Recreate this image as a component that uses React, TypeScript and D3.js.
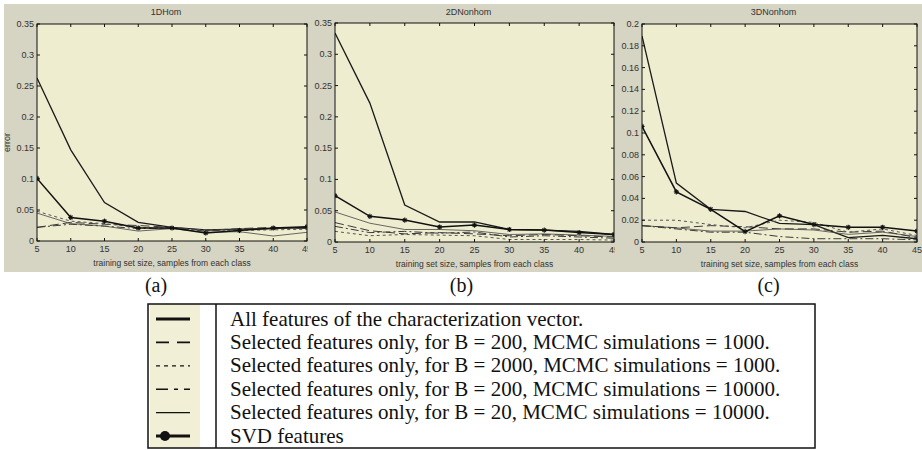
import React from "react";
import * as d3 from "d3";

// x values shared by every panel: training set size, samples from each class
const trainingSizes = [5, 10, 15, 20, 25, 30, 35, 40, 45];

// panel (a) 1DHom
const homAll = [0.263, 0.147, 0.062, 0.03, 0.022, 0.018, 0.019, 0.02, 0.022];
const homB200M1000 = [0.022, 0.03, 0.027, 0.025, 0.022, 0.017, 0.02, 0.022, 0.02];
const homB2000M1000 = [0.048, 0.032, 0.028, 0.022, 0.02, 0.018, 0.017, 0.018, 0.019];
const homB200M10000 = [0.022, 0.027, 0.024, 0.02, 0.021, 0.016, 0.019, 0.02, 0.021];
const homB20M10000 = [0.045, 0.028, 0.024, 0.016, 0.02, 0.014, 0.015, 0.008, 0.014];
const homSvd = [0.101, 0.038, 0.032, 0.021, 0.021, 0.013, 0.017, 0.021, 0.023];

// panel (b) 2DNonhom
const non2All = [0.334, 0.222, 0.059, 0.032, 0.032, 0.02, 0.019, 0.017, 0.012];
const non2B200M1000 = [0.031, 0.018, 0.013, 0.015, 0.013, 0.01, 0.012, 0.01, 0.008];
const non2B2000M1000 = [0.017, 0.01, 0.012, 0.011, 0.01, 0.004, 0.004, 0.004, 0.003];
const non2B200M10000 = [0.025, 0.015, 0.017, 0.014, 0.016, 0.008, 0.01, 0.008, 0.006];
const non2B20M10000 = [0.048, 0.03, 0.02, 0.02, 0.018, 0.012, 0.013, 0.011, 0.009];
const non2Svd = [0.074, 0.041, 0.035, 0.024, 0.027, 0.02, 0.019, 0.015, 0.012];

// panel (c) 3DNonhom
const non3All = [0.189, 0.054, 0.03, 0.028, 0.017, 0.016, 0.004, 0.006, 0.003];
const non3B200M1000 = [0.015, 0.013, 0.015, 0.014, 0.012, 0.012, 0.009, 0.01, 0.004];
const non3B2000M1000 = [0.02, 0.02, 0.016, 0.013, 0.02, 0.018, 0.009, 0.012, 0.006];
const non3B200M10000 = [0.015, 0.012, 0.009, 0.009, 0.005, 0.003, 0.003, 0.003, 0.002];
const non3B20M10000 = [0.015, 0.013, 0.01, 0.01, 0.012, 0.011, 0.007, 0.009, 0.005];
const non3Svd = [0.106, 0.046, 0.03, 0.0095, 0.024, 0.016, 0.0135, 0.0135, 0.01];

const legendLabels = [
  "All features of the characterization vector.",
  "Selected features only, for B = 200, MCMC simulations = 1000.",
  "Selected features only, for B = 2000, MCMC simulations = 1000.",
  "Selected features only, for B = 200, MCMC simulations = 10000.",
  "Selected features only, for B = 20, MCMC simulations = 10000.",
  "SVD features",
];

// line styles, in legend order
const styles = [
  { dash: "", width: 1.3, color: "#1a1a1a", legendWidth: 3, legendDash: "" },
  { dash: "9,4", width: 1, color: "#3a3a3a", legendWidth: 1.6, legendDash: "13,8" },
  { dash: "3,3", width: 1, color: "#555", legendWidth: 1.3, legendDash: "4,4" },
  { dash: "8,3,2,3", width: 1, color: "#3a3a3a", legendWidth: 1.6, legendDash: "12,6,4,6" },
  { dash: "", width: 0.8, color: "#444", legendWidth: 1.4, legendDash: "" },
  { dash: "", width: 1.5, color: "#111", legendWidth: 3, legendDash: "" },
];

const panels = [
  {
    title: "1DHom", tag: "(a)", yMax: 0.35, yStep: 0.05, yLabel: "error",
    bg: [4, 308], left: 37, right: 307, top: 24, bottom: 241,
    series: [homAll, homB200M1000, homB2000M1000, homB200M10000, homB20M10000, homSvd],
  },
  {
    title: "2DNonhom", tag: "(b)", yMax: 0.35, yStep: 0.05, yLabel: "",
    bg: [308, 615], left: 335, right: 614, top: 23, bottom: 242,
    series: [non2All, non2B200M1000, non2B2000M1000, non2B200M10000, non2B20M10000, non2Svd],
  },
  {
    title: "3DNonhom", tag: "(c)", yMax: 0.2, yStep: 0.02, yLabel: "",
    bg: [615, 922], left: 642, right: 917, top: 24, bottom: 242,
    series: [non3All, non3B200M1000, non3B2000M1000, non3B200M10000, non3B20M10000, non3Svd],
  },
];

const fmt = (d: number) => (d === 0 ? "0" : String(+d.toFixed(2)));
const tickFont = "Liberation Sans, Arial, sans-serif";
const serif = "Liberation Serif, Times New Roman, serif";

function Star({ cx, cy }: { cx: number; cy: number }) {
  const r = 2.6;
  return (
    <g stroke="#111" strokeWidth={1.1}>
      <line x1={cx - r} y1={cy} x2={cx + r} y2={cy} />
      <line x1={cx} y1={cy - r} x2={cx} y2={cy + r} />
      <line x1={cx - r * 0.7} y1={cy - r * 0.7} x2={cx + r * 0.7} y2={cy + r * 0.7} />
      <line x1={cx - r * 0.7} y1={cy + r * 0.7} x2={cx + r * 0.7} y2={cy - r * 0.7} />
    </g>
  );
}

function Panel({ p, idx }: { p: (typeof panels)[number]; idx: number }) {
  const x = d3.scaleLinear().domain([5, 45]).range([p.left, p.right]);
  const y = d3.scaleLinear().domain([0, p.yMax]).range([p.bottom, p.top]);
  const yTicks = d3.range(0, p.yMax + 1e-9, p.yStep);
  const line = d3
    .line<number>()
    .x((_, i) => x(trainingSizes[i]))
    .y((d) => y(d));
  const clipId = `clip-${idx}`;
  const tk = 3;
  const cx = (p.left + p.right) / 2;

  return (
    <g>
      <rect x={p.bg[0]} y={4} width={p.bg[1] - p.bg[0]} height={268} fill="#d6d4c2" />
      <rect x={p.left} y={p.top} width={p.right - p.left} height={p.bottom - p.top} fill="#efedd0" />
      <clipPath id={clipId}>
        <rect x={p.left} y={p.top} width={p.right - p.left} height={p.bottom - p.top} />
      </clipPath>

      <g clipPath={`url(#${clipId})`} fill="none">
        {p.series.map((s, i) => (
          <path
            key={i}
            d={line(s) || ""}
            stroke={styles[i].color}
            strokeWidth={styles[i].width}
            strokeDasharray={styles[i].dash}
          />
        ))}
        {p.series[5].map((d, i) => (
          <Star key={i} cx={x(trainingSizes[i])} cy={y(d)} />
        ))}
      </g>

      {/* frame and inward ticks */}
      <rect x={p.left} y={p.top} width={p.right - p.left} height={p.bottom - p.top} fill="none" stroke="#111" strokeWidth={1} />
      <g stroke="#111" strokeWidth={1}>
        {trainingSizes.map((t) => (
          <g key={t}>
            <line x1={x(t)} x2={x(t)} y1={p.bottom} y2={p.bottom - tk} />
            <line x1={x(t)} x2={x(t)} y1={p.top} y2={p.top + tk} />
          </g>
        ))}
        {yTicks.map((t) => (
          <g key={t}>
            <line x1={p.left} x2={p.left + tk} y1={y(t)} y2={y(t)} />
            <line x1={p.right} x2={p.right - tk} y1={y(t)} y2={y(t)} />
          </g>
        ))}
      </g>

      <g fontFamily={tickFont} fontSize={9} fill="#333">
        {trainingSizes.map((t) => (
          <text key={t} x={x(t)} y={p.bottom + 11} textAnchor="middle">
            {t}
          </text>
        ))}
        {yTicks.map((t) => (
          <text key={t} x={p.left - 3} y={y(t) + 3} textAnchor="end">
            {fmt(t)}
          </text>
        ))}
        <text x={cx - 6} y={15} textAnchor="middle">
          {p.title}
        </text>
        <text x={cx} y={p.bottom + 25} textAnchor="middle" fontSize={8.5}>
          training set size, samples from each class
        </text>
        {p.yLabel && (
          <text transform={`translate(10,${(p.top + p.bottom) / 2 + 10}) rotate(-90)`} textAnchor="middle">
            {p.yLabel}
          </text>
        )}
      </g>

      <text
        x={(p.bg[0] + p.bg[1]) / 2}
        y={292}
        textAnchor="middle"
        fontFamily={serif}
        fontSize={20}
        fill="#111"
      >
        {p.tag}
      </text>
    </g>
  );
}

function Legend() {
  const top = 304;
  const bottom = 448;
  const rowY = d3
    .scalePoint<number>()
    .domain(d3.range(legendLabels.length))
    .range([top + 15, bottom - 12]);
  return (
    <g>
      <rect x={150} y={top} width={50} height={bottom - top} fill="#f1efd5" />
      <rect x={148} y={top} width={815 - 148} height={bottom - top} fill="none" stroke="#111" strokeWidth={1.5} />
      <line x1={216} x2={216} y1={top} y2={bottom} stroke="#111" strokeWidth={1.5} />
      {legendLabels.map((label, i) => {
        const yy = rowY(i) || 0;
        const st = styles[i];
        return (
          <g key={i}>
            <line x1={156} x2={190} y1={yy} y2={yy} stroke="#111" strokeWidth={st.legendWidth} strokeDasharray={st.legendDash} />
            {i === 5 && <circle cx={165} cy={yy} r={5} fill="#111" />}
            <text x={230} y={yy + 6.5} fontFamily={serif} fontSize={21} fill="#111">
              {label}
            </text>
          </g>
        );
      })}
    </g>
  );
}

export default function App() {
  return (
    <svg
      width={922}
      height={450}
      style={{ position: "absolute", left: 0, top: 0, background: "#fff" }}
    >
      {panels.map((p, i) => (
        <Panel key={i} p={p} idx={i} />
      ))}
      <Legend />
    </svg>
  );
}
